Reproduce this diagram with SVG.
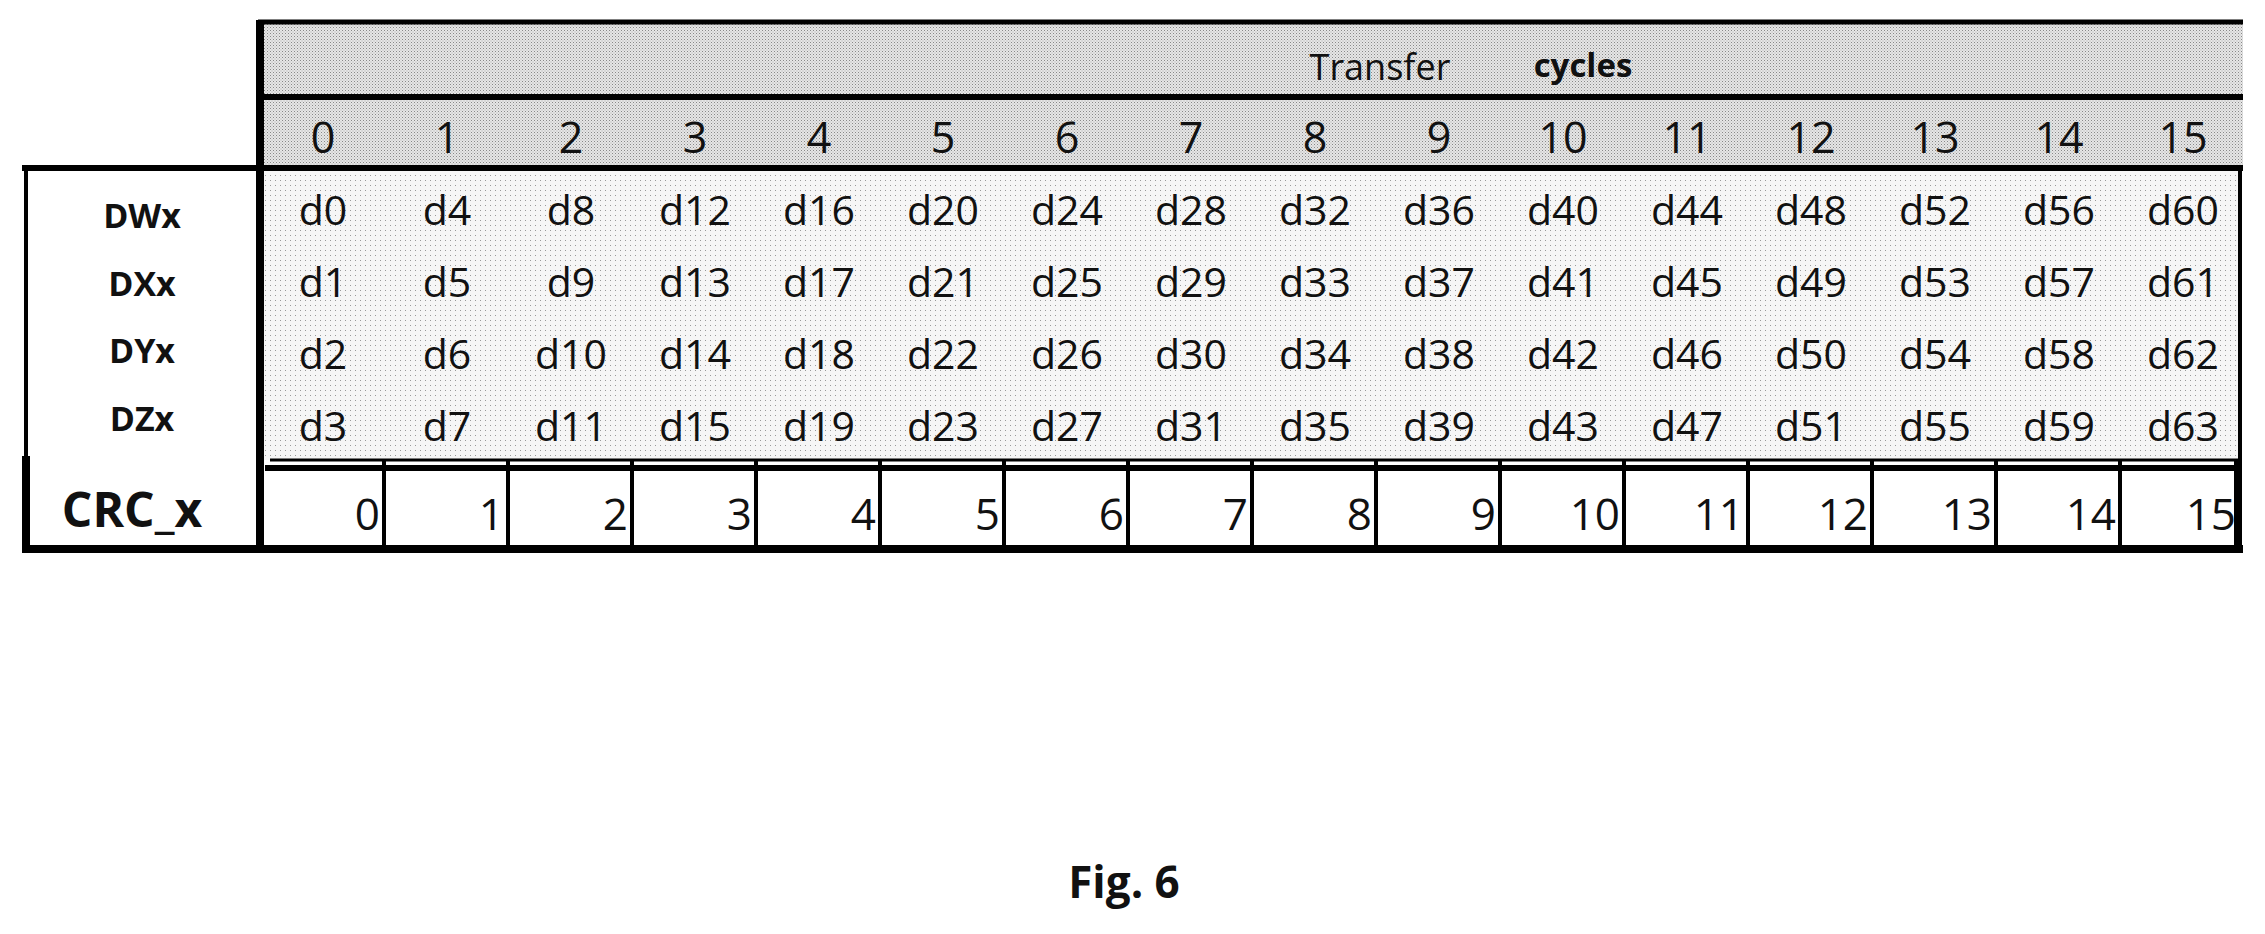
<svg xmlns="http://www.w3.org/2000/svg" width="2265" height="934" viewBox="0 0 2265 934">
<defs>
<pattern id="dark" width="3" height="3" patternUnits="userSpaceOnUse"><rect width="3" height="3" fill="#e6e6e6"/><rect width="1" height="1" fill="#888"/><rect x="1.5" y="1.5" width="1" height="1" fill="#aaa"/></pattern>
<pattern id="light" width="5" height="5" patternUnits="userSpaceOnUse"><rect width="5" height="5" fill="#f6f6f6"/><rect width="1" height="1" fill="#999"/></pattern>
</defs>
<style>
text{font-family:"Open Sans","Liberation Sans",sans-serif;fill:#111}
.n{font-size:43px;text-anchor:middle}
.d{font-size:41px;text-anchor:middle}
.l{font-size:34px;font-weight:bold;text-anchor:middle}
.c{font-size:44px;text-anchor:end}
.ln{stroke:#000;fill:none}
</style>
<rect x="260" y="22" width="1983" height="146" fill="url(#dark)"/>
<rect x="260" y="168" width="1980" height="292" fill="url(#light)"/>
<rect x="26" y="168" width="234" height="292" fill="#fff"/>
<g id="header">
<text x="1380" y="80" style="font-size:36px;text-anchor:middle">Transfer</text>
<text x="1583" y="77" style="font-size:33px;font-weight:bold;text-anchor:middle">cycles</text>
</g>
<g id="lines">
<line class="ln" x1="258" y1="22" x2="2243" y2="22" stroke-width="5"/>
<line class="ln" x1="260" y1="20" x2="260" y2="550" stroke-width="8"/>
<line class="ln" x1="260" y1="97" x2="2243" y2="97" stroke-width="6"/>
<line class="ln" x1="22" y1="168" x2="2243" y2="168" stroke-width="6"/>
<line class="ln" x1="26" y1="168" x2="26" y2="456" stroke="#999" stroke-width="4"/>
<line class="ln" x1="2240" y1="168" x2="2240" y2="460" stroke-width="4"/>
<line class="ln" x1="26" y1="456" x2="26" y2="552" stroke-width="8"/>
<line class="ln" x1="22" y1="549" x2="2243" y2="549" stroke-width="8"/>
<line class="ln" x1="270" y1="460" x2="2240" y2="460" stroke-width="3"/>
<line class="ln" x1="265" y1="468" x2="2240" y2="468" stroke-width="6"/>
<line class="ln" x1="2238" y1="460" x2="2238" y2="552" stroke-width="8"/>
</g>
<g id="crc-cells" class="ln" stroke-width="4">
<line x1="384" y1="460" x2="384" y2="546"/><line x1="508" y1="460" x2="508" y2="546"/><line x1="632" y1="460" x2="632" y2="546"/><line x1="756" y1="460" x2="756" y2="546"/><line x1="880" y1="460" x2="880" y2="546"/><line x1="1004" y1="460" x2="1004" y2="546"/><line x1="1128" y1="460" x2="1128" y2="546"/><line x1="1252" y1="460" x2="1252" y2="546"/><line x1="1376" y1="460" x2="1376" y2="546"/><line x1="1500" y1="460" x2="1500" y2="546"/><line x1="1624" y1="460" x2="1624" y2="546"/><line x1="1748" y1="460" x2="1748" y2="546"/><line x1="1872" y1="460" x2="1872" y2="546"/><line x1="1996" y1="460" x2="1996" y2="546"/><line x1="2120" y1="460" x2="2120" y2="546"/>
</g>
<g id="labels">
<text class="l" x="142" y="228">DWx</text>
<text class="l" x="142" y="296">DXx</text>
<text class="l" x="142" y="363">DYx</text>
<text class="l" x="142" y="431">DZx</text>
<text x="132" y="527" style="font-size:48px;font-weight:bold;text-anchor:middle">CRC_x</text>
</g>
<g id="numbers">
<text class="n" x="323" y="153">0</text><text class="n" x="447" y="153">1</text><text class="n" x="571" y="153">2</text><text class="n" x="695" y="153">3</text><text class="n" x="819" y="153">4</text><text class="n" x="943" y="153">5</text><text class="n" x="1067" y="153">6</text><text class="n" x="1191" y="153">7</text><text class="n" x="1315" y="153">8</text><text class="n" x="1439" y="153">9</text><text class="n" x="1563" y="153">10</text><text class="n" x="1687" y="153">11</text><text class="n" x="1811" y="153">12</text><text class="n" x="1935" y="153">13</text><text class="n" x="2059" y="153">14</text><text class="n" x="2183" y="153">15</text>
</g>
<g id="data">
<text class="d" x="323" y="225">d0</text><text class="d" x="447" y="225">d4</text><text class="d" x="571" y="225">d8</text><text class="d" x="695" y="225">d12</text><text class="d" x="819" y="225">d16</text><text class="d" x="943" y="225">d20</text><text class="d" x="1067" y="225">d24</text><text class="d" x="1191" y="225">d28</text><text class="d" x="1315" y="225">d32</text><text class="d" x="1439" y="225">d36</text><text class="d" x="1563" y="225">d40</text><text class="d" x="1687" y="225">d44</text><text class="d" x="1811" y="225">d48</text><text class="d" x="1935" y="225">d52</text><text class="d" x="2059" y="225">d56</text><text class="d" x="2183" y="225">d60</text>
<text class="d" x="323" y="297">d1</text><text class="d" x="447" y="297">d5</text><text class="d" x="571" y="297">d9</text><text class="d" x="695" y="297">d13</text><text class="d" x="819" y="297">d17</text><text class="d" x="943" y="297">d21</text><text class="d" x="1067" y="297">d25</text><text class="d" x="1191" y="297">d29</text><text class="d" x="1315" y="297">d33</text><text class="d" x="1439" y="297">d37</text><text class="d" x="1563" y="297">d41</text><text class="d" x="1687" y="297">d45</text><text class="d" x="1811" y="297">d49</text><text class="d" x="1935" y="297">d53</text><text class="d" x="2059" y="297">d57</text><text class="d" x="2183" y="297">d61</text>
<text class="d" x="323" y="369">d2</text><text class="d" x="447" y="369">d6</text><text class="d" x="571" y="369">d10</text><text class="d" x="695" y="369">d14</text><text class="d" x="819" y="369">d18</text><text class="d" x="943" y="369">d22</text><text class="d" x="1067" y="369">d26</text><text class="d" x="1191" y="369">d30</text><text class="d" x="1315" y="369">d34</text><text class="d" x="1439" y="369">d38</text><text class="d" x="1563" y="369">d42</text><text class="d" x="1687" y="369">d46</text><text class="d" x="1811" y="369">d50</text><text class="d" x="1935" y="369">d54</text><text class="d" x="2059" y="369">d58</text><text class="d" x="2183" y="369">d62</text>
<text class="d" x="323" y="441">d3</text><text class="d" x="447" y="441">d7</text><text class="d" x="571" y="441">d11</text><text class="d" x="695" y="441">d15</text><text class="d" x="819" y="441">d19</text><text class="d" x="943" y="441">d23</text><text class="d" x="1067" y="441">d27</text><text class="d" x="1191" y="441">d31</text><text class="d" x="1315" y="441">d35</text><text class="d" x="1439" y="441">d39</text><text class="d" x="1563" y="441">d43</text><text class="d" x="1687" y="441">d47</text><text class="d" x="1811" y="441">d51</text><text class="d" x="1935" y="441">d55</text><text class="d" x="2059" y="441">d59</text><text class="d" x="2183" y="441">d63</text>
</g>
<g id="crc">
<text class="c" x="380" y="530">0</text><text class="c" x="504" y="530">1</text><text class="c" x="628" y="530">2</text><text class="c" x="752" y="530">3</text><text class="c" x="876" y="530">4</text><text class="c" x="1000" y="530">5</text><text class="c" x="1124" y="530">6</text><text class="c" x="1248" y="530">7</text><text class="c" x="1372" y="530">8</text><text class="c" x="1496" y="530">9</text><text class="c" x="1620" y="530">10</text><text class="c" x="1744" y="530">11</text><text class="c" x="1868" y="530">12</text><text class="c" x="1992" y="530">13</text><text class="c" x="2116" y="530">14</text><text class="c" x="2236" y="530">15</text>
</g>
<text x="1124" y="898" style="font-size:44px;font-weight:bold;text-anchor:middle">Fig. 6</text>
</svg>
